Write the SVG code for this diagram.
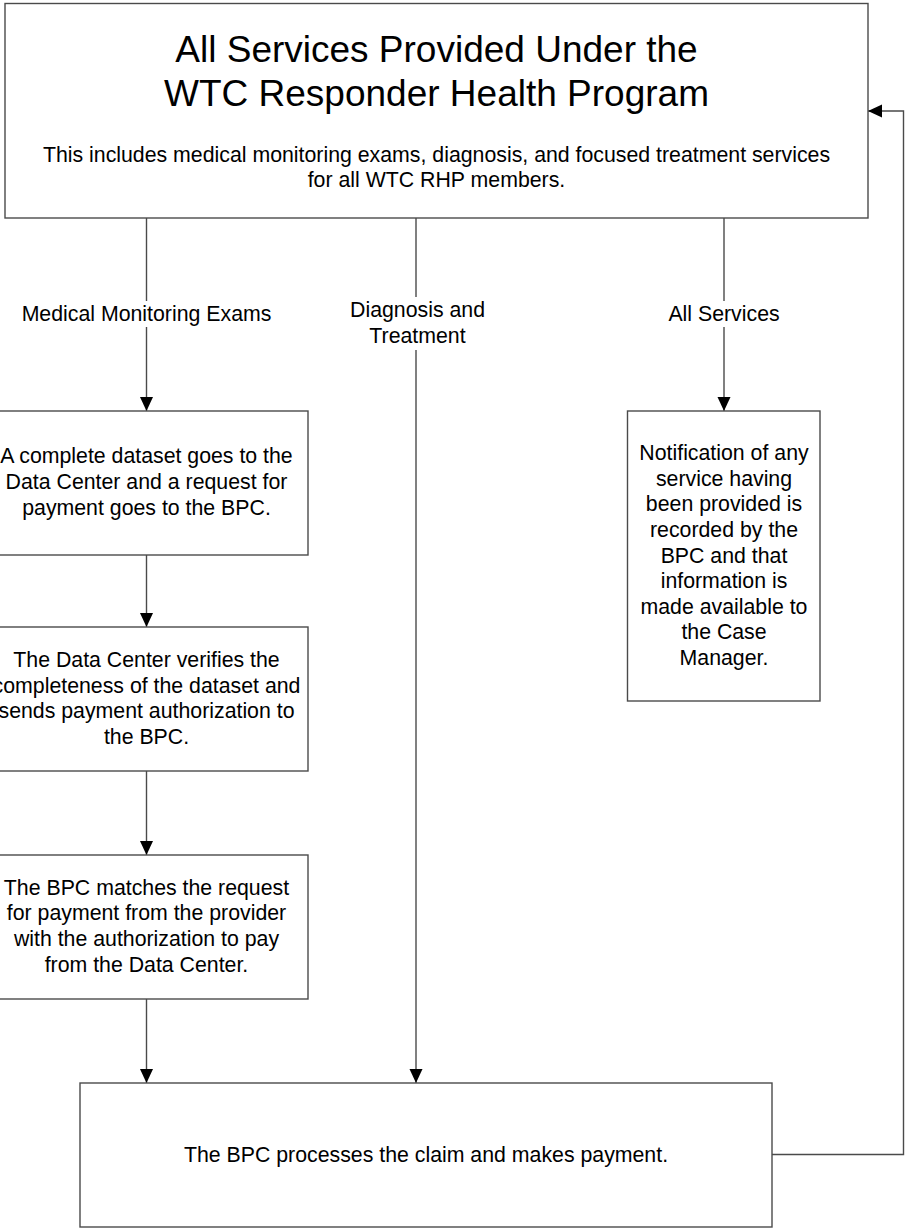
<svg xmlns="http://www.w3.org/2000/svg" width="906" height="1230" viewBox="0 0 906 1230">
<style>
  .box { fill: #ffffff; stroke: #4a4a4a; stroke-width: 1.4; }
  .conn { fill: none; stroke: #4a4a4a; stroke-width: 1.4; }
  .t { font-family: "Liberation Sans", Arial, sans-serif; font-size: 21.3px; fill: #000000; text-anchor: middle; }
  .title { font-family: "Liberation Sans", Arial, sans-serif; font-size: 37px; fill: #000000; text-anchor: middle; }
  .lblbg { fill: #ffffff; stroke: none; }
</style>
<defs>
  <marker id="arr" markerUnits="userSpaceOnUse" markerWidth="15" markerHeight="14" refX="14" refY="6.5" orient="auto">
    <path d="M0,0 L14,6.5 L0,13 Z" fill="#000000"/>
  </marker>
</defs>
<rect x="0" y="0" width="906" height="1230" fill="#ffffff"/>

<g id="connectors">
  <line class="conn" x1="146.5" y1="218" x2="146.5" y2="411" marker-end="url(#arr)"/>
  <line class="conn" x1="416" y1="218" x2="416" y2="1083" marker-end="url(#arr)"/>
  <line class="conn" x1="724" y1="218" x2="724" y2="411" marker-end="url(#arr)"/>
  <line class="conn" x1="146.5" y1="555" x2="146.5" y2="627" marker-end="url(#arr)"/>
  <line class="conn" x1="146.5" y1="771" x2="146.5" y2="855" marker-end="url(#arr)"/>
  <line class="conn" x1="146.5" y1="999" x2="146.5" y2="1083" marker-end="url(#arr)"/>
  <polyline class="conn" points="772,1154.5 903.5,1154.5 903.5,111 868,111" marker-end="url(#arr)"/>
  <g id="label-medical">
    <rect class="lblbg" x="18" y="301" width="257" height="26"/>
    <text class="t" x="146.5" y="321">Medical Monitoring Exams</text>
  </g>
  <g id="label-diagnosis">
    <rect class="lblbg" x="346" y="297" width="142" height="53"/>
    <text class="t" x="417.5" y="317">Diagnosis and</text>
    <text class="t" x="417.5" y="343">Treatment</text>
  </g>
  <g id="label-all">
    <rect class="lblbg" x="662" y="301" width="124" height="26"/>
    <text class="t" x="724" y="321">All Services</text>
  </g>
</g>

<g id="node-top">
  <rect class="box" x="5" y="3.5" width="863" height="214.5"/>
  <text class="title" x="436.5" y="62">All Services Provided Under the</text>
  <text class="title" x="436.5" y="106">WTC Responder Health Program</text>
  <text class="t" x="436.5" y="162">This includes medical monitoring exams, diagnosis, and focused treatment services</text>
  <text class="t" x="436.5" y="187">for all WTC RHP members.</text>
</g>

<g id="node-dataset">
  <rect class="box" x="-15" y="411" width="323" height="144"/>
  <text class="t" x="146.5" y="463">A complete dataset goes to the</text>
  <text class="t" x="146.5" y="489">Data Center and a request for</text>
  <text class="t" x="146.5" y="515">payment goes to the BPC.</text>
</g>

<g id="node-verify">
  <rect class="box" x="-15" y="627" width="323" height="144"/>
  <text class="t" x="146.5" y="667">The Data Center verifies the</text>
  <text class="t" x="146.5" y="692.5">completeness of the dataset and</text>
  <text class="t" x="146.5" y="718">sends payment authorization to</text>
  <text class="t" x="146.5" y="743.5">the BPC.</text>
</g>

<g id="node-match">
  <rect class="box" x="-15" y="855" width="323" height="144"/>
  <text class="t" x="146.5" y="894.5">The BPC matches the request</text>
  <text class="t" x="146.5" y="920.2">for payment from the provider</text>
  <text class="t" x="146.5" y="945.9">with the authorization to pay</text>
  <text class="t" x="146.5" y="971.6">from the Data Center.</text>
</g>

<g id="node-notify">
  <rect class="box" x="627.5" y="411" width="192.5" height="290"/>
  <text class="t" x="724" y="460">Notification of any</text>
  <text class="t" x="724" y="485.6">service having</text>
  <text class="t" x="724" y="511.2">been provided is</text>
  <text class="t" x="724" y="536.9">recorded by the</text>
  <text class="t" x="724" y="562.5">BPC and that</text>
  <text class="t" x="724" y="588.1">information is</text>
  <text class="t" x="724" y="613.7">made available to</text>
  <text class="t" x="724" y="639.4">the Case</text>
  <text class="t" x="724" y="665">Manager.</text>
</g>

<g id="node-payment">
  <rect class="box" x="80" y="1083" width="692" height="144"/>
  <text class="t" x="426" y="1162">The BPC processes the claim and makes payment.</text>
</g>
</svg>
